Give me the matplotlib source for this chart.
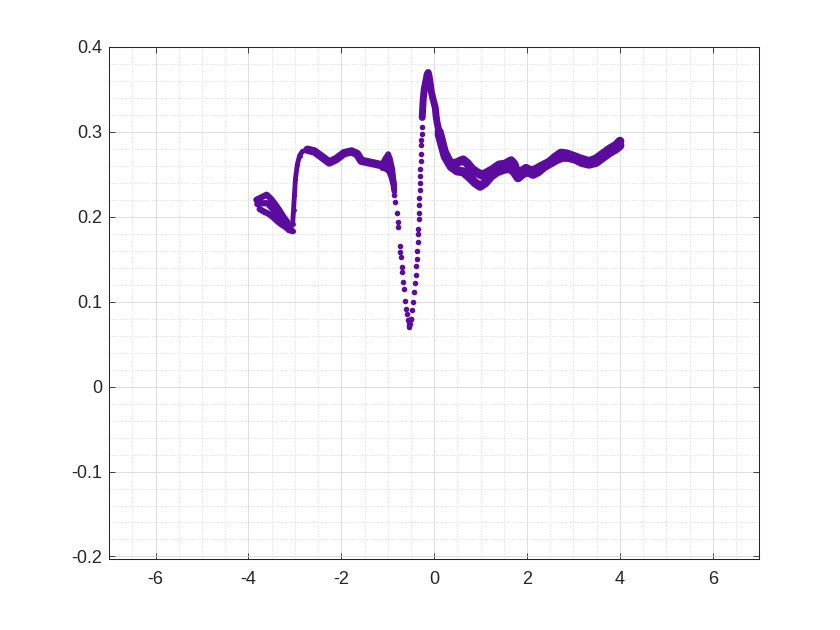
import numpy as np
import matplotlib.pyplot as plt
from matplotlib.ticker import MultipleLocator, FixedLocator

plt.rcParams['font.family'] = ['Liberation Sans', 'DejaVu Sans']

PURPLE = '#5b0c9e'

# --- data (dense bands as traces, sparse dip as dots) ---
left_a_x = [-3.83, -3.72, -3.61, -3.53, -3.44, -3.35, -3.27, -3.18, -3.10, -3.05]
left_a_y = [0.220, 0.223, 0.226, 0.222, 0.216, 0.209, 0.202, 0.195, 0.186, 0.183]
left_b_x = [-3.81, -3.70, -3.59, -3.51, -3.42, -3.33, -3.25, -3.16, -3.08]
left_b_y = [0.215, 0.216, 0.216, 0.211, 0.206, 0.200, 0.195, 0.189, 0.184]
left_c_x = [-3.76, -3.66, -3.55, -3.46, -3.38, -3.29, -3.20, -3.12]
left_c_y = [0.209, 0.206, 0.203, 0.199, 0.195, 0.191, 0.188, 0.184]

rise_x = [-3.05, -3.03, -3.01, -2.99, -2.95, -2.90, -2.84, -2.73]
rise_y = [0.191, 0.208, 0.226, 0.244, 0.261, 0.272, 0.277, 0.279]

plateau_x = [-2.73, -2.58, -2.43, -2.26, -2.11, -1.94, -1.78, -1.66, -1.57,
             -1.40, -1.23, -1.08]
plateau_y = [0.279, 0.277, 0.271, 0.264, 0.268, 0.275, 0.277, 0.274, 0.266,
             0.264, 0.262, 0.260]

near1_a_x = [-1.12, -1.05, -0.99, -0.95, -0.90, -0.88, -0.86]
near1_a_y = [0.262, 0.269, 0.274, 0.268, 0.256, 0.244, 0.232]
near1_b_x = [-1.12, -1.05, -0.99, -0.95, -0.90, -0.86]
near1_b_y = [0.260, 0.264, 0.266, 0.261, 0.250, 0.238]
near1_c_x = [-1.12, -1.03, -0.97, -0.92, -0.88, -0.86]
near1_c_y = [0.258, 0.256, 0.253, 0.246, 0.237, 0.230]

dip_x = [-0.86, -0.84, -0.80, -0.78, -0.77, -0.73, -0.73, -0.71, -0.69, -0.69,
         -0.67, -0.65, -0.62, -0.60, -0.58, -0.56, -0.54, -0.54, -0.52, -0.51,
         -0.55, -0.50, -0.47, -0.45, -0.43, -0.41, -0.40, -0.39, -0.37, -0.36,
         -0.35, -0.34, -0.34, -0.33, -0.33, -0.32, -0.32, -0.31, -0.31, -0.30,
         -0.30, -0.29, -0.29, -0.28, -0.28, -0.27, -0.27]
dip_y = [0.226, 0.218, 0.205, 0.194, 0.188, 0.166, 0.159, 0.153, 0.141, 0.135,
         0.123, 0.115, 0.101, 0.092, 0.085, 0.078, 0.072, 0.070, 0.074, 0.080,
         0.076, 0.080, 0.090, 0.100, 0.112, 0.122, 0.132, 0.142, 0.150, 0.160,
         0.170, 0.180, 0.186, 0.198, 0.205, 0.214, 0.222, 0.232, 0.240, 0.248,
         0.256, 0.266, 0.274, 0.284, 0.290, 0.298, 0.306]

peak_x = [-0.258, -0.237, -0.215, -0.172, -0.151, -0.129, -0.108, -0.086,
          -0.065, -0.022, 0.022, 0.043, 0.065, 0.108]
peak_y = [0.317, 0.338, 0.350, 0.362, 0.368, 0.370, 0.365, 0.357,
          0.348, 0.338, 0.329, 0.318, 0.310, 0.300]

right_up_x = [0.108, 0.215, 0.323, 0.430, 0.538, 0.624, 0.710, 0.817, 0.925,
              1.032, 1.140, 1.269, 1.398, 1.527, 1.656, 1.720, 1.785, 1.871,
              1.978, 2.086, 2.194, 2.323, 2.473, 2.602, 2.731, 2.860, 3.011,
              3.161, 3.333, 3.484, 3.634, 3.785, 3.914, 4.000]
right_up_y = [0.300, 0.277, 0.265, 0.262, 0.265, 0.267, 0.263, 0.256, 0.252,
              0.249, 0.252, 0.256, 0.261, 0.262, 0.266, 0.262, 0.251, 0.253,
              0.257, 0.254, 0.256, 0.260, 0.264, 0.270, 0.275, 0.274, 0.271,
              0.268, 0.265, 0.268, 0.274, 0.280, 0.284, 0.289]
right_lo_x = [0.108, 0.237, 0.366, 0.495, 0.624, 0.753, 0.882, 0.989, 1.097,
              1.226, 1.355, 1.505, 1.634, 1.720, 1.806, 1.914, 2.022, 2.129,
              2.237, 2.366, 2.495, 2.624, 2.753, 2.882, 3.032, 3.183, 3.333,
              3.484, 3.634, 3.785, 3.914, 4.000]
right_lo_y = [0.297, 0.271, 0.259, 0.254, 0.253, 0.247, 0.240, 0.236, 0.240,
              0.248, 0.253, 0.256, 0.257, 0.253, 0.246, 0.251, 0.253, 0.250,
              0.253, 0.259, 0.263, 0.267, 0.270, 0.270, 0.268, 0.264, 0.262,
              0.264, 0.270, 0.276, 0.280, 0.284]

bands = [(left_a_x, left_a_y, 4.5), (left_b_x, left_b_y, 4.5), (left_c_x, left_c_y, 4.5),
         (rise_x, rise_y, 3.5), (plateau_x, plateau_y, 6.0),
         (near1_a_x, near1_a_y, 4.0), (near1_b_x, near1_b_y, 4.0), (near1_c_x, near1_c_y, 4.0),
         (peak_x, peak_y, 5.0), (right_up_x, right_up_y, 6.5), (right_lo_x, right_lo_y, 6.5)]

fig = plt.figure(figsize=(8.4, 6.3), dpi=100, facecolor='white')
ax = fig.add_axes([0.13, 0.1127, 0.7738, 0.8127])

for bx, by, lw in bands:
    ax.plot(bx, by, '-', color=PURPLE, lw=lw, solid_capstyle='round',
            solid_joinstyle='round', marker='o', ms=3.5, mew=0, zorder=3)
ax.plot(dip_x, dip_y, 'o', color=PURPLE, ms=4.0, mew=0, zorder=3)

ax.set_xlim(-7, 7)
ax.set_ylim(-0.203, 0.4)
ax.xaxis.set_major_locator(FixedLocator([-6, -4, -2, 0, 2, 4, 6]))
ax.yaxis.set_major_locator(FixedLocator([-0.2, -0.1, 0, 0.1, 0.2, 0.3, 0.4]))
ax.set_xticklabels(['-6', '-4', '-2', '0', '2', '4', '6'])
ax.set_yticklabels(['-0.2', '-0.1', '0', '0.1', '0.2', '0.3', '0.4'])
ax.xaxis.set_minor_locator(MultipleLocator(0.5))
ax.yaxis.set_minor_locator(MultipleLocator(0.02))

ax.grid(True, which='major', color='#d9d9d9', lw=0.6, ls='-', zorder=0)
ax.grid(True, which='minor', color='#dedede', lw=0.6, ls=(0, (1.5, 1.5)), zorder=0)
ax.set_axisbelow(True)

ax.tick_params(which='major', direction='in', length=4.5, width=0.6,
               top=True, right=True, colors='#262626', labelsize=13)
ax.tick_params(axis='y', pad=5)
ax.tick_params(axis='x', pad=9)
ax.tick_params(which='minor', length=0, top=True, right=True)
for s in ax.spines.values():
    s.set_color('#262626')
    s.set_linewidth(0.75)

fig.savefig('out.png', dpi=100, facecolor='white')
